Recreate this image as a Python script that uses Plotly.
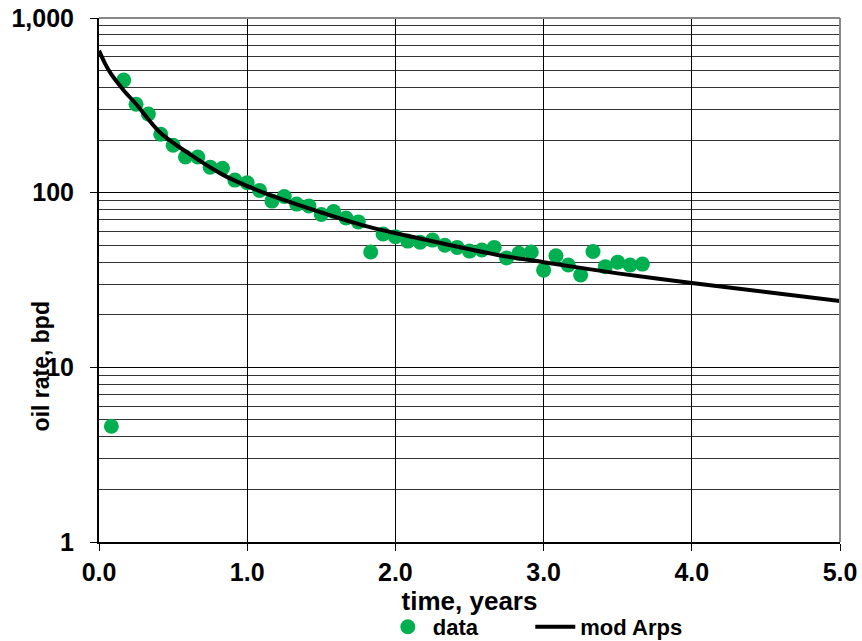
import plotly.graph_objects as go

# data (time in years, oil rate in bpd)
data_t = [1/12*i for i in range(1, 45)]
data_q = [4.6, 441, 321, 282, 216, 187, 160, 160, 140, 138, 118, 114,
          103, 89.5, 95, 86, 84, 75, 78, 71.6, 68, 45.7, 58, 56,
          52.8, 52, 53.5, 50, 48.6, 46.3, 47, 48.6, 42.3, 45, 45.7, 36,
          43.5, 38.5, 33.8, 46, 37.7, 40, 38.5, 39]

model_t = [0, 0.04, 0.08, 0.167, 0.25, 0.41, 0.59, 0.84, 1.15, 1.5, 1.78, 2.12, 2.69, 3.0, 3.5, 4.0, 4.5, 5.0]
model_q = [650, 550, 480, 385, 322, 222, 171, 126, 97, 77, 65, 55.7, 44, 40, 34.5, 30.4, 27, 24]

x_ticks = [0, 1, 2, 3, 4, 5]
y_ticks = [1, 10, 100, 1000]
y_tick_text = ["1", "10", "100", "1,000"]
y_minor = [m * d for d in (1, 10, 100) for m in range(2, 10)]

FONT = "Liberation Sans, Arial, sans-serif"
LEG_FONT = dict(family=FONT, size=22, color="black", weight="bold")

fig = go.Figure()
fig.add_trace(go.Scatter(x=data_t, y=data_q, mode="markers", name="data", legend="legend",
                         marker=dict(color="#00B050", size=15, line=dict(width=0))))
fig.add_trace(go.Scatter(x=model_t, y=model_q, mode="lines", name="mod Arps", legend="legend2",
                         line=dict(color="black", width=4, shape="spline", smoothing=0.8)))

fig.update_layout(
    width=862, height=641,
    margin=dict(l=99, r=22, t=18, b=99, autoexpand=False),
    paper_bgcolor="white", plot_bgcolor="white",
    font=dict(family=FONT, size=19, color="black"),
    showlegend=True,
    legend=dict(orientation="h", x=0.383, y=-0.162, xanchor="left", yanchor="middle",
                font=LEG_FONT, itemwidth=40, bgcolor="rgba(0,0,0,0)"),
    legend2=dict(orientation="h", x=0.582, y=-0.162, xanchor="left", yanchor="middle",
                 font=LEG_FONT, itemwidth=40, bgcolor="rgba(0,0,0,0)"),
    xaxis=dict(range=[0, 5], tickvals=x_ticks, ticktext=[f"{v:.1f}" for v in x_ticks],
               showgrid=True, gridcolor="black", gridwidth=1,
               showline=True, linecolor="black", linewidth=2,
               ticks="outside", ticklen=7, tickcolor="black", tickwidth=1,
               tickfont=dict(family=FONT, size=25, weight="bold"), zeroline=False,
               automargin=False, ticklabeloverflow="allow",
               title=dict(text="time, years", font=dict(family=FONT, size=26, weight="bold"), standoff=0)),
    yaxis=dict(type="log", range=[0, 3], tickvals=y_ticks, ticktext=y_tick_text,
               showgrid=True, gridcolor="black", gridwidth=1,
               showline=True, linecolor="black", linewidth=2,
               ticks="outside", ticklen=7, tickcolor="black", tickwidth=1,
               ticklabelstandoff=11, ticklabeloverflow="allow",
               tickfont=dict(family=FONT, size=25, weight="bold"), zeroline=False,
               automargin=False,
               minor=dict(tickvals=y_minor, showgrid=True, gridcolor="#333", gridwidth=1, ticks="")),
    annotations=[dict(text="oil rate, bpd", textangle=-90, xref="paper", yref="paper",
                      x=-0.079, y=0.336, xanchor="center", yanchor="middle", showarrow=False,
                      font=dict(family=FONT, size=23, weight="bold", color="black"))],
    shapes=[
        dict(type="line", xref="paper", yref="paper", x0=0, x1=1, y0=1, y1=1,
             line=dict(color="#888", width=2)),
        dict(type="line", xref="paper", yref="paper", x0=1, x1=1, y0=0, y1=1,
             line=dict(color="#888", width=2)),
    ],
)

# remove the default 8px page margin so the figure fills the window exactly
fig.write_html("out.html", config={"displayModeBar": False},
               post_script="document.body.style.margin='0px';"
                           "document.documentElement.style.overflow='hidden';")
